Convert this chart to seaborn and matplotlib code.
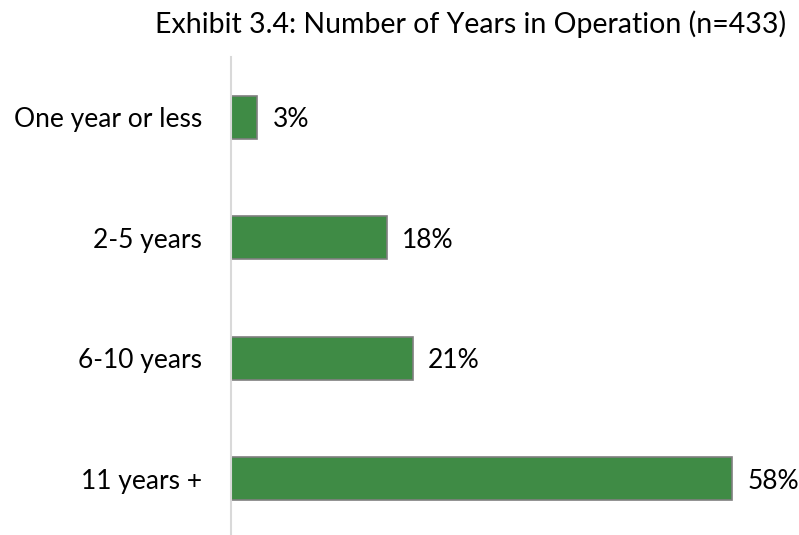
import matplotlib
matplotlib.use("Agg")
import matplotlib.pyplot as plt
import seaborn as sns
import pandas as pd

categories = ["One year or less", "2-5 years", "6-10 years", "11 years +"]
shares = [3, 18, 21, 58]
value_labels = ["3%", "18%", "21%", "58%"]

sns.set_theme(style="white")
plt.rcParams["font.family"] = ["Lato", "DejaVu Sans"]

df = pd.DataFrame({"category": categories, "share": shares})

fig = plt.figure(figsize=(7.99, 5.35), dpi=100)
ax = fig.add_axes([231 / 799, (535 - 539) / 535, 562 / 799, (539 - 57) / 535])

sns.barplot(data=df, x="share", y="category", order=categories, color="#3F8B45",
            saturation=1, width=0.36, edgecolor="#7F7F7F", linewidth=1.2, ax=ax)

for patch, lab in zip(ax.patches, value_labels):
    w = patch.get_width()
    yc = patch.get_y() + patch.get_height() / 2
    ax.text(w + 1.8, yc + 0.02, lab, va="center", ha="left", fontsize=19, color="black")

ax.set_xlim(0, 65)
ax.set_ylim(3.5, -0.5)
ax.set_xlabel("")
ax.set_ylabel("")
ax.set_xticks([])
ax.tick_params(axis="y", length=0, pad=21, labelsize=19, labelcolor="black")
for s in ["top", "right", "bottom"]:
    ax.spines[s].set_visible(False)
ax.spines["left"].set_color("#D9D9D9")
ax.spines["left"].set_linewidth(1.5)

fig.text(786 / 799, 1 - 33 / 535, "Exhibit 3.4: Number of Years in Operation (n=433)",
         ha="right", va="baseline", fontsize=20.5, color="black")

fig.savefig("out.png", dpi=100)
